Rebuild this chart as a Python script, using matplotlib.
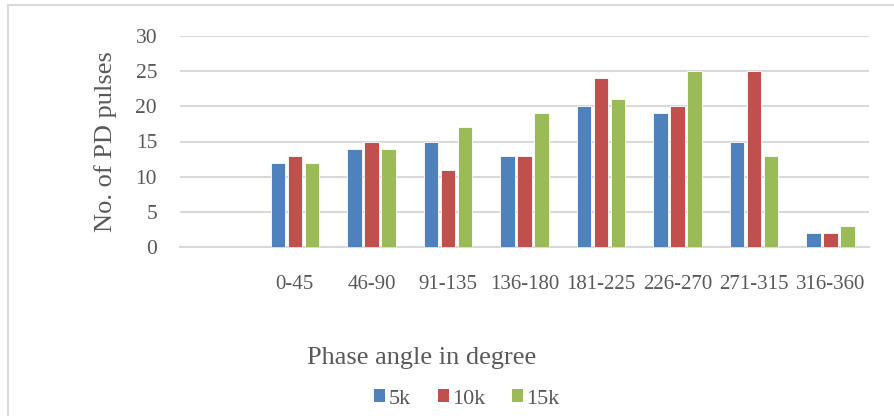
import matplotlib
matplotlib.use("Agg")
import matplotlib.pyplot as plt
import numpy as np
from matplotlib.patches import Rectangle, Patch

categories = ["", "0-45", "46-90", "91-135", "136-180", "181-225", "226-270", "271-315", "316-360"]
series_names = ["5k", "10k", "15k"]
v5k = [None, 12, 14, 15, 13, 20, 19, 15, 2]
v10k = [None, 13, 15, 11, 13, 24, 20, 25, 2]
v15k = [None, 12, 14, 17, 19, 21, 25, 13, 3]
colors = ["#4F81BD", "#C0504D", "#9BBB59"]
yticks = [0, 5, 10, 15, 20, 25, 30]

plt.rcParams['font.family'] = ['Liberation Serif', 'DejaVu Serif']
txt = "#595959"

fig = plt.figure(figsize=(8.95, 4.16), dpi=100)
fig.patches.append(Rectangle((8/895, -0.2), 1.2, 1.2 - 5/416, transform=fig.transFigure,
                             fill=False, edgecolor="#D9D9D9", linewidth=1.5))
ax = fig.add_axes([180/895, 1-247/416, (869-180)/895, (247-36)/416])

x = np.arange(len(categories))
step = 0.222
w = 0.19
for i, (vals, c) in enumerate(zip([v5k, v10k, v15k], colors)):
    xs = [xi + (i-1)*step for xi, v in zip(x, vals) if v is not None]
    hs = [v for v in vals if v is not None]
    ax.bar(xs, hs, width=w, color=c, edgecolor="white", linewidth=0.6, zorder=3)

ax.set_xlim(-0.5, len(categories)-0.5)
ax.set_ylim(0, 30)
ax.set_yticks(yticks)
ax.set_xticks(x)
ax.set_xticklabels(categories)
ax.yaxis.grid(True, color="#D9D9D9", linewidth=1.5, zorder=0)
ax.set_axisbelow(True)
for s in ["top", "right", "left"]:
    ax.spines[s].set_visible(False)
ax.spines["bottom"].set_color("#D9D9D9")
ax.spines["bottom"].set_linewidth(1.5)
ax.tick_params(axis="both", length=0, labelsize=15, colors=txt)
ax.tick_params(axis="y", labelsize=15.5, pad=16.5)
ax.tick_params(axis="x", pad=20)
ax.set_ylabel("No. of PD pulses", fontsize=19, color=txt)
ax.yaxis.set_label_coords((117-180)/689, 0.5)

fig.text(422/895, 1-358/416, "Phase angle in degree", fontsize=19, color=txt, ha="center", va="center")
handles = [Patch(facecolor=c, edgecolor="none") for c in colors]
fig.legend(handles, series_names, loc="center", bbox_to_anchor=(467/895, 1-399/416), ncol=3,
           frameon=False, fontsize=16, handlelength=0.5, handleheight=0.5, handletextpad=0.15,
           columnspacing=1.2, labelcolor=txt, borderpad=0)

fig.savefig("out.png", dpi=100)
